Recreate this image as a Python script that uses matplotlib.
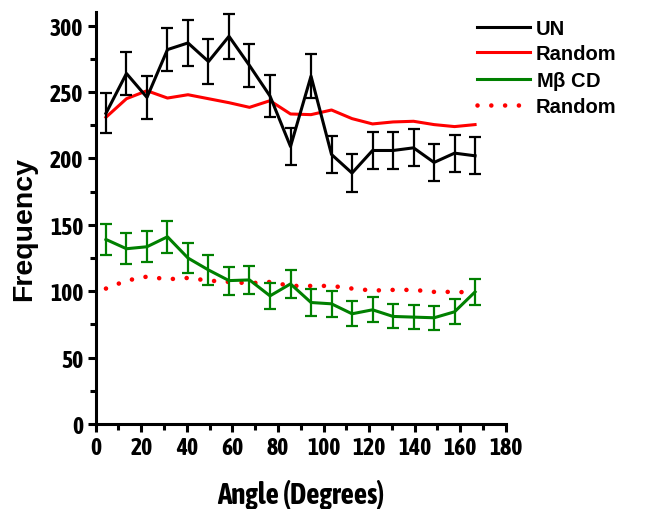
import numpy as np
import matplotlib
matplotlib.use("Agg")
import matplotlib.pyplot as plt
from matplotlib.lines import Line2D

# bin centres (9 degree bins)
angle = [4.5, 13.5, 22.5, 31.5, 40.5, 49.5, 58.5, 67.5, 76.5, 85.5,
         94.5, 103.5, 112.5, 121.5, 130.5, 139.5, 148.5, 157.5, 166.5]

un = [234, 264, 246, 282, 287, 273, 292, 270, 247, 209,
      262, 203, 189, 206, 206, 208, 197, 204, 202]
un_err = [15, 16.5, 16, 16.5, 17, 17, 17, 16.5, 16, 14,
          16.5, 14, 14, 14, 14, 14, 14, 14, 14]
random_un = [231, 245, 251, 245.5, 248, 245, 242, 238.5, 243.5, 233.5,
             233, 236.5, 230, 226, 227.5, 228, 225.5, 224, 225.5]

mbcd = [139, 132, 133.5, 141, 125, 116, 108, 108.5, 96.5, 105.5,
        91.5, 90.5, 83, 86, 81, 80.5, 80, 84.5, 99.5]
mbcd_err = [12, 11.5, 11.5, 12, 11, 11, 10.5, 10.5, 10, 10.5,
            10, 10, 9.5, 9.5, 9, 9, 9, 9.5, 10]
random_mbcd = [102, 108, 111, 109, 110, 108, 107, 106, 107, 104,
               104, 104, 102, 100.5, 101, 101, 99.5, 99.5, 99]

labels = ['UN', 'Random', r'M$\mathregular{\beta}$ CD', 'Random']

plt.rcParams['font.family'] = ['Liberation Sans', 'DejaVu Sans']
plt.rcParams['font.weight'] = 'bold'
narrow = ['Liberation Sans Narrow', 'Arial Narrow', 'Asap Condensed',
          'Archivo Narrow', 'DejaVu Sans']

fig = plt.figure(figsize=(6.51, 5.10), dpi=100)
ax = fig.add_axes([0.147, 0.1667, 0.63, 0.807])

ax.errorbar(angle, un, yerr=un_err, color='black', lw=2.2, elinewidth=1.6,
            capsize=4.5, capthick=1.6, zorder=3)
ax.plot(angle, random_un, color='#ff0000', lw=2.2, zorder=2)
ax.errorbar(angle, mbcd, yerr=mbcd_err, color='#008000', lw=2.2, elinewidth=1.6,
            capsize=4.5, capthick=1.6, zorder=3)
dotted = (0, (0.01, 3.0))
ax.plot(angle, random_mbcd, color='#ff0000', lw=3.3, linestyle=dotted,
        dash_capstyle='round', zorder=2)

ax.set_xlim(0, 180)
ax.set_ylim(0, 310)
ax.set_xticks(np.arange(0, 181, 20))
ax.set_xticks(np.arange(10, 180, 20), minor=True)
ax.set_yticks(np.arange(0, 301, 50))
ax.set_yticks(np.arange(25, 300, 50), minor=True)

for s in ['top', 'right']:
    ax.spines[s].set_visible(False)
for s in ['left', 'bottom']:
    ax.spines[s].set_linewidth(2.2)

ax.tick_params(which='major', direction='out', length=6, width=2.2, labelsize=17, pad=3)
ax.tick_params(which='minor', direction='out', length=4, width=2.2)
for lab in ax.get_xticklabels() + ax.get_yticklabels():
    lab.set_family(narrow)
    lab.set_fontstretch('condensed')
    lab.set_fontweight('bold')

ax.set_xlabel('Angle (Degrees)', fontsize=21, fontweight='bold', labelpad=14,
              family=narrow, fontstretch='condensed')
ax.set_ylabel('Frequency', fontsize=20.5, fontweight='bold')
ax.yaxis.set_label_coords(-0.143, 0.475)

handles = [Line2D([], [], color='black', lw=2.2),
           Line2D([], [], color='#ff0000', lw=2.2),
           Line2D([], [], color='#008000', lw=2.2),
           Line2D([], [], color='#ff0000', lw=3.3, linestyle=dotted,
                  dash_capstyle='round')]
leg = ax.legend(handles, labels, loc='upper left', bbox_to_anchor=(0.733, 0.96),
                bbox_transform=fig.transFigure, frameon=False, fontsize=14.5,
                handlelength=2.6, handletextpad=0.3, labelspacing=0.28,
                borderpad=0, borderaxespad=0)
for t in leg.get_texts():
    t.set_fontweight('bold')

fig.savefig('out.png', dpi=100)
